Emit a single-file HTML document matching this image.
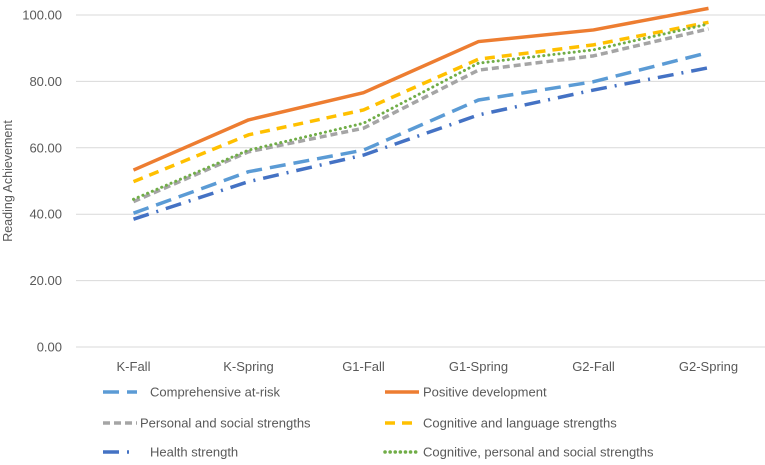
<!DOCTYPE html>
<html><head><meta charset="utf-8"><style>
body{margin:0;background:#fff}
svg text{font-family:"Liberation Sans",sans-serif;fill:#595959}
</style></head><body>
<svg width="765" height="460" id="c">
<text transform="translate(12,181) rotate(-90)" text-anchor="middle" font-size="12.5">Reading Achievement</text>
<g id="grid"></g><g id="lines"></g><g id="legend"></g>
</svg>
<script>
const categories=["K-Fall","K-Spring","G1-Fall","G1-Spring","G2-Fall","G2-Spring"];
const yTicks=[0,20,40,60,80,100];
const comprehensive=[40.3,52.8,59.3,74.4,79.9,88.7];
const positive=[53.3,68.4,76.6,92.0,95.5,102.0];
const personal=[43.8,58.8,65.9,83.4,87.7,95.8];
const cognitiveLang=[49.8,63.9,71.4,86.7,91.0,97.8];
const health=[38.5,49.8,57.8,69.9,77.4,84.1];
const cogPersonal=[44.5,59.3,67.4,85.5,89.5,97.3];
const NS="http://www.w3.org/2000/svg";
function x(i){return 76+57.5+115*i;}
function y(v){return 347-v*3.32;}
function mk(t,a,p){const e=document.createElementNS(NS,t);for(const k in a)e.setAttribute(k,a[k]);p.appendChild(e);return e;}
const grid=document.getElementById('grid');
yTicks.forEach(v=>{
 const l=mk('line',{x1:76,x2:765,y1:y(v),y2:y(v),stroke:'#d9d9d9','stroke-width':1},grid);
 
 
 const t=mk('text',{x:62,y:y(v)+4.5,'text-anchor':'end','font-size':13},grid);
 t.textContent=v.toFixed(2);
 
 
});
categories.forEach((c,i)=>{
 const t=mk('text',{x:x(i),y:371,'text-anchor':'middle','font-size':13},grid);
 t.textContent=c;
 
 
});
const series=[
 {n:"Comprehensive at-risk",d:comprehensive,c:"#5b9bd5",da:"16,8",lx:103,ly:392,tx:150},
 {n:"Positive development",d:positive,c:"#ed7d31",da:"",lx:385,ly:392,tx:423},
 {n:"Personal and social strengths",d:personal,c:"#a5a5a5",da:"7,4",lx:103,ly:423,tx:140},
 {n:"Cognitive and language strengths",d:cognitiveLang,c:"#ffc000",da:"10,7",lx:385,ly:423,tx:423},
 {n:"Health strength",d:health,c:"#4472c4",da:"16,8,2,8",lx:103,ly:452,tx:150},
 {n:"Cognitive, personal and social strengths",d:cogPersonal,c:"#70ad47",da:"0.1,5",lx:385,ly:452,tx:423}
];
const lines=document.getElementById('lines'),leg=document.getElementById('legend');
series.forEach(s=>{
 const slug=s.n.toLowerCase().replace(/[^a-z]+/g,'-');
 const p=mk('polyline',{points:s.d.map((v,i)=>x(i)+','+y(v)).join(' '),fill:'none',stroke:s.c,'stroke-width':s.da==="0.1,5"?3:3.5,'stroke-dasharray':s.da,'stroke-linecap':s.da==="0.1,5"?'round':'butt','stroke-linejoin':'round'},lines);
 
 
 const l=mk('line',{x1:s.lx,x2:s.lx+34,y1:s.ly,y2:s.ly,stroke:s.c,'stroke-width':3.5,'stroke-dasharray':s.da,'stroke-linecap':s.da==="0.1,5"?'round':'butt'},leg);
 
 
 const t=mk('text',{x:s.tx,y:s.ly+4.5,'font-size':13},leg);
 t.textContent=s.n;
 
 
});
</script>
</body></html>
